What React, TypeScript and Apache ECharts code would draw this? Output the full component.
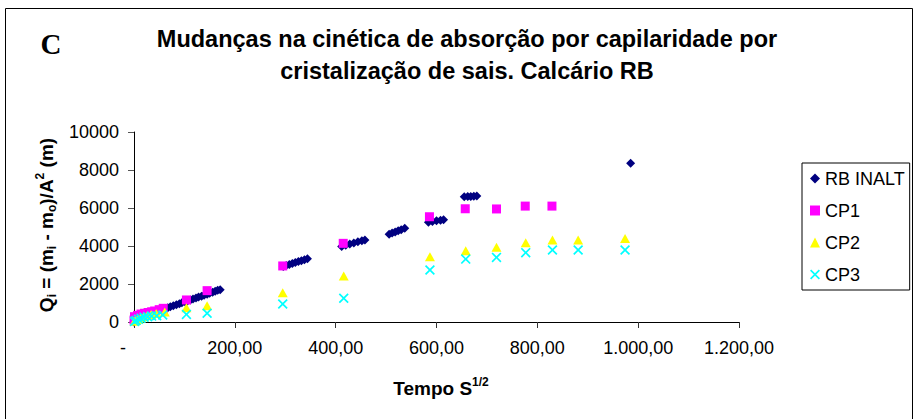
import React, { useEffect, useRef } from 'react';
import * as echarts from 'echarts';

const seriesNames = ['RB INALT', 'CP1', 'CP2', 'CP3'];

const rbInalt: number[][] = [
  [0, 0], [7, 120], [13, 230], [19, 300], [24, 370], [30, 420], [35, 480], [42, 540],
  [49, 600], [55, 650], [60, 700], [67, 750], [72, 800], [78, 860], [84, 910], [90, 960],
  [95, 1010], [101, 1060], [106, 1110], [112, 1160], [117, 1210], [123, 1260], [128, 1310],
  [134, 1360], [139, 1410], [145, 1460], [150, 1510], [156, 1570], [161, 1620], [166, 1670],
  [171, 1700],
  [296, 2920], [302, 2980], [308, 3030], [314, 3080], [320, 3130], [326, 3180], [332, 3230],
  [338, 3280], [344, 3330],
  [412, 3980], [420, 4040], [428, 4100], [436, 4160], [444, 4220], [452, 4280], [458, 4320],
  [506, 4620], [512, 4680], [518, 4740], [524, 4800], [530, 4860], [537, 4930],
  [584, 5250], [592, 5290], [600, 5330], [608, 5360], [614, 5380],
  [655, 6590], [662, 6600], [668, 6610], [674, 6620], [680, 6630],
  [985, 8350],
];

const cp1: number[][] = [
  [0, 100], [1, 280], [7, 350], [14, 420], [21, 460], [28, 500], [35, 540], [41, 580],
  [50, 650], [58, 720], [104, 1160], [145, 1650], [295, 2950], [415, 4140], [586, 5540],
  [657, 5960], [719, 5950], [776, 6100], [829, 6100],
];

const cp2: number[][] = [
  [1, 40], [4, 90], [8, 150], [13, 210], [19, 270], [26, 330], [34, 390], [44, 450],
  [61, 520], [104, 745], [145, 850], [295, 1540], [416, 2420], [587, 3440], [658, 3750],
  [719, 3930], [777, 4170], [830, 4320], [881, 4320], [974, 4400],
];

const cp3: number[][] = [
  [1, 30], [4, 80], [9, 150], [14, 200], [20, 250], [27, 280], [35, 310], [45, 330],
  [57, 370], [104, 400], [145, 460], [295, 950], [416, 1250], [587, 2740], [658, 3310],
  [719, 3400], [777, 3650], [830, 3790], [881, 3790], [974, 3790],
];

const titleText = 'Mudanças na cinética de absorção por capilaridade por\ncristalização de sais. Calcário RB';

const FONT = '"Liberation Sans", Arial, sans-serif';
const X_SYMBOL = 'path://M0,1.2L1.2,0L5,3.8L8.8,0L10,1.2L6.2,5L10,8.8L8.8,10L5,6.2L1.2,10L0,8.8L3.8,5Z';

function fmtX(v: number): string {
  if (v === 0) return '{d|-}';
  const [i, d] = v.toFixed(2).split('.');
  return i.replace(/\B(?=(\d{3})+(?!\d))/g, '.') + ',' + d;
}

export default function App() {
  const ref = useRef<HTMLDivElement>(null);
  useEffect(() => {
    const chart = echarts.init(ref.current!, null, { renderer: 'svg' });
    chart.setOption({
      animation: false,
      backgroundColor: '#fff',
      textStyle: { fontFamily: FONT },
      grid: { left: 134, top: 132, width: 605, height: 190, containLabel: false },
      xAxis: {
        type: 'value', min: 0, max: 1200, interval: 200,
        axisLine: { show: true, onZero: false, lineStyle: { color: '#000', width: 1 } },
        axisTick: { show: true, length: 6, lineStyle: { color: '#333' } },
        splitLine: { show: false },
        axisLabel: {
          fontSize: 18, color: '#000', fontFamily: FONT, margin: 17,
          formatter: fmtX, showMinLabel: true, showMaxLabel: true,
          rich: { d: { fontSize: 18, color: '#000', fontFamily: FONT, padding: [0, 22, 0, 0] } },
        },
      },
      yAxis: {
        type: 'value', min: 0, max: 10000, interval: 2000,
        axisLine: { show: true, lineStyle: { color: '#000', width: 1 } },
        axisTick: { show: true, length: 6, lineStyle: { color: '#555' } },
        splitLine: { show: false },
        axisLabel: {
          fontSize: 18, color: '#000', fontFamily: FONT, margin: 15,
          formatter: (v: number) => String(v),
        },
      },
      legend: {
        orient: 'vertical', left: 802, top: 163,
        padding: [6, 5, 6, 8],
        itemWidth: 10, itemHeight: 10, itemGap: 13,
        borderColor: '#000', borderWidth: 1, borderRadius: 0,
        textStyle: { fontSize: 18, color: '#000', fontFamily: FONT, lineHeight: 19 },
        data: seriesNames,
      },
      series: [
        {
          name: seriesNames[0], type: 'scatter', data: rbInalt, symbol: 'diamond', symbolSize: 9,
          itemStyle: { color: '#000080', opacity: 1 },
        },
        {
          name: seriesNames[1], type: 'scatter', data: cp1, symbol: 'rect', symbolSize: 9,
          itemStyle: { color: '#FF00FF', opacity: 1 },
        },
        {
          name: seriesNames[2], type: 'scatter', data: cp2, symbol: 'triangle', symbolSize: [10, 9],
          itemStyle: { color: '#FFFF00', opacity: 1 },
        },
        {
          name: seriesNames[3], type: 'scatter', data: cp3, symbol: X_SYMBOL, symbolSize: 10,
          itemStyle: { color: '#00FFFF', opacity: 1 },
        },
      ],
      graphic: [
        {
          type: 'rect', silent: true,
          shape: { x: 5.5, y: 8.5, width: 907, height: 430 },
          style: { fill: 'none', stroke: '#000', lineWidth: 1 },
        },
        {
          type: 'text', x: 51, y: 44,
          style: {
            text: 'C', fontFamily: '"Liberation Serif", "Times New Roman", serif', fontWeight: 'bold',
            fontSize: 29, fill: '#000', align: 'center', verticalAlign: 'middle',
          },
        },
        {
          type: 'text', x: 467, y: 55,
          style: {
            text: titleText, fontFamily: FONT, fontWeight: 'bold', fontSize: 23.5, lineHeight: 32,
            fill: '#000', align: 'center', verticalAlign: 'middle',
          },
        },
        {
          type: 'text', x: 46, y: 225, rotation: Math.PI / 2,
          style: {
            text: '{b|Q}{s|i}{b| = (m}{s|i}{b| - m}{s|o}{b|)/A}{p|2}{b| (m)}',
            align: 'center', verticalAlign: 'middle', fill: '#000',
            rich: {
              b: { fontFamily: FONT, fontWeight: 'bold', fontSize: 19, lineHeight: 24, fill: '#000' },
              s: { fontFamily: FONT, fontWeight: 'bold', fontSize: 12, lineHeight: 24, verticalAlign: 'bottom', padding: [8, 0, 0, 0], fill: '#000' },
              p: { fontFamily: FONT, fontWeight: 'bold', fontSize: 12, lineHeight: 24, verticalAlign: 'top', padding: [0, 0, 8, 0], fill: '#000' },
            },
          },
        },
        {
          type: 'text', x: 441, y: 388,
          style: {
            text: '{b|Tempo S}{p|1/2}',
            align: 'center', verticalAlign: 'middle', fill: '#000',
            rich: {
              b: { fontFamily: FONT, fontWeight: 'bold', fontSize: 19, lineHeight: 24, fill: '#000' },
              p: { fontFamily: FONT, fontWeight: 'bold', fontSize: 12, lineHeight: 24, verticalAlign: 'top', padding: [0, 0, 8, 0], fill: '#000' },
            },
          },
        },
      ],
    });
    return () => chart.dispose();
  }, []);
  return (
    <div
      ref={ref}
      style={{ position: 'absolute', left: 0, top: 0, width: 917, height: 419, background: '#fff' }}
    />
  );
}
